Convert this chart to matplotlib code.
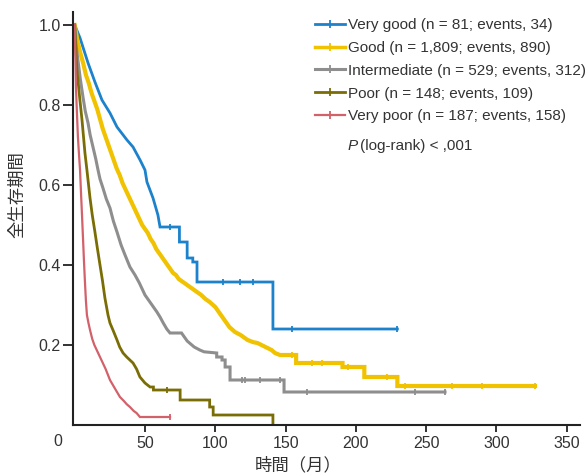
import numpy as np
import matplotlib
matplotlib.use("Agg")
import matplotlib.pyplot as plt
from matplotlib.lines import Line2D

plt.rcParams['font.family'] = ['Liberation Sans', 'Noto Sans CJK JP', 'DejaVu Sans']

# ---------------- data ----------------
labels = ["Very good (n = 81; events, 34)",
          "Good (n = 1,809; events, 890)",
          "Intermediate (n = 529; events, 312)",
          "Poor (n = 148; events, 109)",
          "Very poor (n = 187; events, 158)"]

# curve vertices (months, survival); repeated months mark vertical steps
vg_t = [0, 3.8, 9.5, 14.4, 19.4, 25.1, 30.1, 37.2, 41.5, 46.5, 50, 51.4, 55.7, 59.2, 60.7,
        74.5, 74.5, 80, 80, 84, 84, 87, 87, 141, 141, 229.5]
vg_s = [1, 0.9675, 0.905, 0.8575, 0.8125, 0.78, 0.745, 0.7125, 0.695, 0.6625, 0.6375, 0.6075,
        0.5675, 0.525, 0.495, 0.495, 0.4575, 0.4575, 0.4175, 0.4175, 0.4075, 0.4075, 0.3575,
        0.3575, 0.24, 0.24]
vg_c = [68, 105.5, 117.6, 126.8, 154.6, 229.5]

gd_t = [0, 2, 4, 6, 8, 10, 12, 14, 16, 18, 20, 22, 24, 26, 28, 30, 32, 34, 36, 38, 40, 42, 44,
        46, 48, 50, 52, 54, 56, 58, 60, 62, 64, 66, 68, 70, 72, 74, 77, 80, 84, 87, 90, 93, 96,
        100, 103, 107, 110, 114, 118, 123, 127, 130, 134, 140, 142.5, 146, 157.5, 157.5,
        190.5, 190.5, 206, 206, 229.5, 229.5, 327.4]
gd_s = [1, 0.96, 0.93, 0.905, 0.875, 0.855, 0.83, 0.81, 0.79, 0.765, 0.74, 0.72, 0.70, 0.68,
        0.66, 0.64, 0.625, 0.605, 0.59, 0.575, 0.56, 0.545, 0.53, 0.515, 0.50, 0.49, 0.48, 0.465,
        0.455, 0.44, 0.43, 0.42, 0.41, 0.40, 0.39, 0.38, 0.375, 0.365, 0.3575, 0.35, 0.34, 0.3325,
        0.325, 0.315, 0.3075, 0.295, 0.28, 0.26, 0.245, 0.2325, 0.225, 0.2125, 0.207, 0.205,
        0.198, 0.1875, 0.18, 0.175, 0.175, 0.155, 0.155, 0.145, 0.145, 0.12, 0.12, 0.0975, 0.0975]
gd_c = [154.7, 169, 176, 194.5, 222, 235, 268.4, 289.9, 327.4]

im_t = [0, 1, 2.3, 4, 5.9, 7.5, 9.5, 11, 13, 15, 16.6, 18, 20.1, 22.5, 25.1, 27.5, 30.1, 33,
        35.8, 39.3, 42.9, 46, 48, 50, 53, 56, 58.5, 60.7, 63, 65.5, 67.8, 76, 80, 85, 89, 92,
        101, 101, 104.8, 104.8, 107, 107, 110.5, 110.5, 148.9, 148.9, 263.4]
im_s = [1, 0.95, 0.9125, 0.865, 0.82, 0.785, 0.755, 0.725, 0.695, 0.665, 0.6375, 0.615, 0.5925,
        0.565, 0.5425, 0.51, 0.4825, 0.45, 0.425, 0.395, 0.375, 0.355, 0.34, 0.325, 0.31, 0.295,
        0.2825, 0.27, 0.255, 0.24, 0.23, 0.23, 0.21, 0.195, 0.1875, 0.183, 0.18, 0.17, 0.17,
        0.1625, 0.1625, 0.145, 0.145, 0.1125, 0.1125, 0.0825, 0.0825]
im_c = [119, 121.2, 132, 146, 165, 242, 263.4]

pr_t = [0, 1.6, 3.5, 5.2, 7.3, 8.7, 10.9, 12.5, 14.4, 16, 18, 19.8, 21.5, 23.7, 25.1, 27.5,
        30.1, 32, 34.4, 37, 41.5, 44, 46.4, 50, 53.6, 56, 56, 75, 75, 96, 96, 98.5, 98.5,
        141, 141]
pr_s = [1, 0.8875, 0.82, 0.7625, 0.68, 0.6375, 0.5675, 0.525, 0.4825, 0.445, 0.40, 0.36, 0.3175,
        0.275, 0.255, 0.235, 0.2125, 0.195, 0.18, 0.17, 0.155, 0.14, 0.12, 0.105, 0.095, 0.095,
        0.0875, 0.0875, 0.0625, 0.0625, 0.045, 0.045, 0.025, 0.025, 0.0]
pr_c = [65.6]

vp_t = [0, 0.5, 0.9, 1.6, 2.3, 3, 3.8, 4.5, 5.2, 6, 6.6, 7.3, 8, 8.7, 9.8, 10.9, 12.5, 14, 16,
        18, 20, 22, 25.1, 27.5, 30, 32.2, 35, 37, 39.3, 42, 44, 46.4, 67.8]
vp_s = [1, 0.92, 0.845, 0.78, 0.72, 0.68, 0.6375, 0.58, 0.525, 0.46, 0.41, 0.3575, 0.31, 0.275,
        0.255, 0.2375, 0.215, 0.2, 0.185, 0.17, 0.155, 0.14, 0.1125, 0.098, 0.083, 0.07, 0.06,
        0.052, 0.045, 0.035, 0.03, 0.02, 0.02]
vp_c = [67.8]

x_ticks = [50, 100, 150, 200, 250, 300, 350]
y_ticks = [0.2, 0.4, 0.6, 0.8, 1.0]
y_ticklabels = ["0.2", "0.4", "0.6", "0.8", "1.0"]

colors = ["#1c82cc", "#f0c200", "#8e8e8e", "#7a6d05", "#d2616a"]
widths = [2.0, 3.0, 2.2, 2.0, 1.6]

series = [(vg_t, vg_s, vg_c), (gd_t, gd_s, gd_c), (im_t, im_s, im_c),
          (pr_t, pr_s, pr_c), (vp_t, vp_s, vp_c)]

# ---------------- figure ----------------
W, H = 588, 476
fig = plt.figure(figsize=(W / 100, H / 100), dpi=100)
ax = fig.add_axes([73 / W, (H - 425) / H, (580 - 73) / W, (425 - 12) / H])

for (t, s, c), col, lw in zip(series, colors, widths):
    t = np.asarray(t, float); s = np.asarray(s, float)
    ax.plot(t, s, color=col, lw=lw, solid_joinstyle='miter')
    cs = [s[np.searchsorted(t, ci, side='right') - 1] for ci in c]
    ax.plot(c, cs, linestyle='none', marker='|', markersize=5, mew=1.3, color=col)

ax.set_xlim(-1.2, 359.4)
ax.set_ylim(0, 1.0325)
ax.set_xticks(x_ticks)
ax.set_yticks(y_ticks)
ax.set_yticklabels(y_ticklabels)
for sp in ['top', 'right']:
    ax.spines[sp].set_visible(False)
for sp in ['left', 'bottom']:
    ax.spines[sp].set_linewidth(1.5)
    ax.spines[sp].set_color('#222222')
ax.tick_params(axis='x', direction='out', length=5, width=1.3, color='#222222',
               labelsize=11.5, labelcolor='#333333', pad=3)
ax.tick_params(axis='y', direction='out', length=7, width=1.3, color='#222222',
               labelsize=11.5, labelcolor='#333333', pad=2)

fig.text(57.5 / W, 1 - 442 / H, "0", ha='center', va='center', fontsize=11.5, color='#333333')
fig.text(17 / W, 1 - 195 / H, "全生存期間", rotation=90, ha='center', va='center',
         fontsize=12.5, color='#333333')
fig.text(298 / W, 1 - 465 / H, "時間（月）", ha='center', va='center',
         fontsize=12.5, color='#333333')

handles = [Line2D([0], [0], color=col, lw=min(lw, 2.5), marker='|', markersize=6, mew=1.3)
           for col, lw in zip(colors, widths)]
leg = fig.legend(handles, labels, loc='upper left', bbox_to_anchor=(315 / W, 1 - 18 / H),
                 bbox_transform=fig.transFigure, frameon=False, fontsize=11,
                 handlelength=1.96, handletextpad=0.2, labelspacing=0.58,
                 borderpad=0, borderaxespad=0, numpoints=1)
for txt in leg.get_texts():
    txt.set_color('#333333')

fig.text(348 / W, 1 - 146 / H, "P", style='italic', ha='left', va='center', fontsize=11,
         color='#333333')
fig.text(360 / W, 1 - 146 / H, "(log-rank) < ,001", ha='left', va='center', fontsize=11,
         color='#333333')

fig.savefig("out.png", dpi=100)
